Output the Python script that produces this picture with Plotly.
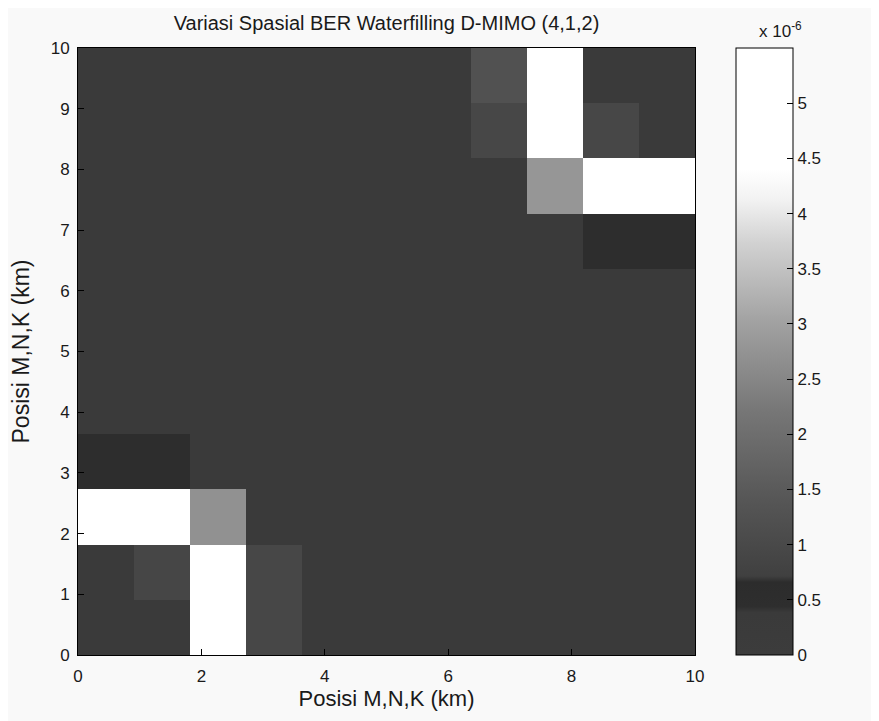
import plotly.graph_objects as go

# grid edges (km): 11 cells from 0 to 10
n_cells = 11
x_edges = [10 * i / n_cells for i in range(n_cells + 1)]
y_edges = [10 * j / n_cells for j in range(n_cells + 1)]

# BER values (x 1e-6), rows from y=0 (bottom) to y=10 (top), cols from x=0 to x=10
ber_rows = [
    [0.30, 0.30, 5.5, 0.95, 0.30, 0.30, 0.30, 0.30, 0.30, 0.30, 0.30],
    [0.30, 0.90, 5.5, 0.95, 0.30, 0.30, 0.30, 0.30, 0.30, 0.30, 0.30],
    [5.5, 5.5, 2.70, 0.30, 0.30, 0.30, 0.30, 0.30, 0.30, 0.30, 0.30],
    [0.60, 0.60, 0.30, 0.30, 0.30, 0.30, 0.30, 0.30, 0.30, 0.30, 0.30],
    [0.30, 0.30, 0.30, 0.30, 0.30, 0.30, 0.30, 0.30, 0.30, 0.30, 0.30],
    [0.30, 0.30, 0.30, 0.30, 0.30, 0.30, 0.30, 0.30, 0.30, 0.30, 0.30],
    [0.30, 0.30, 0.30, 0.30, 0.30, 0.30, 0.30, 0.30, 0.30, 0.30, 0.30],
    [0.30, 0.30, 0.30, 0.30, 0.30, 0.30, 0.30, 0.30, 0.30, 0.60, 0.60],
    [0.30, 0.30, 0.30, 0.30, 0.30, 0.30, 0.30, 0.30, 2.80, 5.5, 5.5],
    [0.30, 0.30, 0.30, 0.30, 0.30, 0.30, 0.30, 0.95, 5.5, 0.95, 0.30],
    [0.30, 0.30, 0.30, 0.30, 0.30, 0.30, 0.30, 1.25, 5.5, 0.30, 0.30],
]
z = [[v * 1e-6 for v in row] for row in ber_rows]

cbar_ticks = [0, 0.5, 1, 1.5, 2, 2.5, 3, 3.5, 4, 4.5, 5]
axis_ticks = [0, 2, 4, 6, 8, 10]
y_ticks = [0, 1, 2, 3, 4, 5, 6, 7, 8, 9, 10]

font_family = "Liberation Sans, Arial, sans-serif"
ink = "#1a1a1a"

colorscale = [
    [0.00, "#3c3c3c"],
    [0.07, "#3a3a3a"],
    [0.08, "#2e2e2e"],
    [0.12, "#2c2c2c"],
    [0.13, "#404040"],
    [0.25, "#555555"],
    [0.40, "#767676"],
    [0.55, "#a2a2a2"],
    [0.68, "#d2d2d2"],
    [0.75, "#f2f2f2"],
    [0.80, "#ffffff"],
    [1.00, "#ffffff"],
]

# figure is placed 8px inside the page by the browser's body margin
W, H = 871, 713
L, R, T, B = 70, 184, 40, 66
PW, PH = W - L - R, H - T - B

fig = go.Figure(
    go.Heatmap(
        x=x_edges,
        y=y_edges,
        z=z,
        zmin=0,
        zmax=5.5e-6,
        zsmooth=False,
        colorscale=colorscale,
        colorbar=dict(
            x=(728 - L) / PW,
            xanchor="left",
            y=0,
            yanchor="bottom",
            len=1,
            lenmode="fraction",
            thickness=57,
            thicknessmode="pixels",
            outlinecolor="#000000",
            outlinewidth=1,
            tickvals=[t * 1e-6 for t in cbar_ticks],
            ticktext=[f"{t:g}" for t in cbar_ticks],
            ticks="inside",
            ticklen=6,
            tickcolor="#000000",
            tickfont=dict(family=font_family, size=17, color=ink),
            xpad=0,
            ypad=0,
        ),
    )
)

fig.update_layout(
    width=W,
    height=H,
    margin=dict(l=L, r=R, t=T, b=B),
    paper_bgcolor="#f9f9f9",
    plot_bgcolor="#3c3c3c",
    title=dict(
        text="Variasi Spasial BER Waterfilling D-MIMO (4,1,2)",
        x=(L + PW / 2) / W,
        xanchor="center",
        y=1 - 15 / H,
        yanchor="middle",
        font=dict(family=font_family, size=20, color=ink),
    ),
    font=dict(family=font_family, size=17, color=ink),
    annotations=[
        dict(
            text="x 10<sup>-6</sup>",
            xref="paper",
            yref="paper",
            x=(749 - L) / PW,
            y=1 + 18 / PH,
            xanchor="left",
            yanchor="middle",
            showarrow=False,
            font=dict(family=font_family, size=17, color=ink),
        )
    ],
)

fig.update_xaxes(
    range=[0, 10],
    tickvals=axis_ticks,
    ticks="inside",
    ticklen=6,
    tickcolor="#000000",
    ticklabelstandoff=6,
    showline=True,
    linecolor="#000000",
    mirror=True,
    showgrid=False,
    zeroline=False,
    title=dict(text="Posisi M,N,K (km)", standoff=0, font=dict(size=22)),
)
fig.update_yaxes(
    range=[0, 10],
    tickvals=y_ticks,
    ticks="inside",
    ticklen=6,
    tickcolor="#000000",
    ticklabelstandoff=4,
    showline=True,
    linecolor="#000000",
    mirror=True,
    showgrid=False,
    zeroline=False,
    title=dict(text="Posisi M,N,K (km)", standoff=14, font=dict(size=23)),
)

fig.write_html("out.html")
